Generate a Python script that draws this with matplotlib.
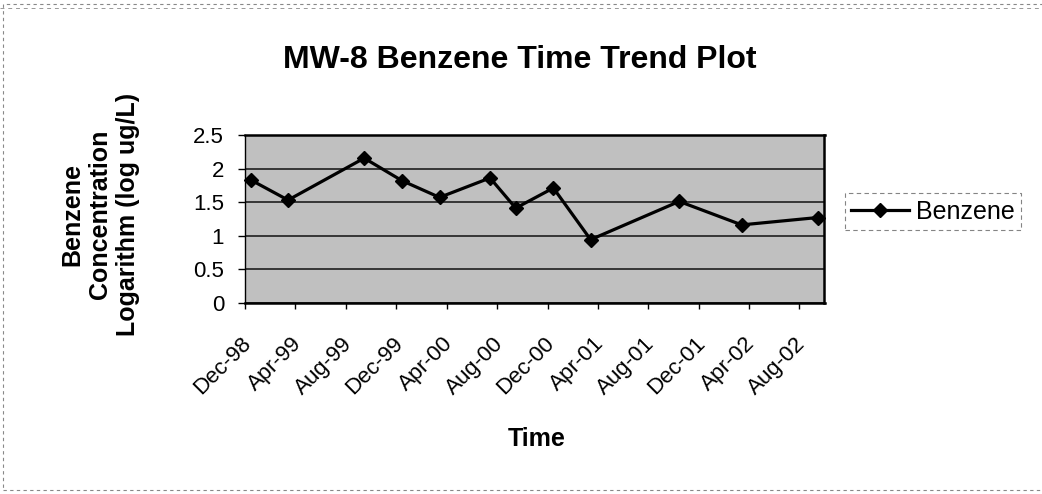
import matplotlib
matplotlib.use("Agg")
import matplotlib.pyplot as plt
import matplotlib.dates as mdates
import matplotlib.transforms as mtransforms
from matplotlib.patches import Rectangle
from matplotlib.lines import Line2D
import datetime as dt

# ---- data ----
title = "MW-8 Benzene Time Trend Plot"
series_name = "Benzene"
x_title = "Time"
y_title = "Benzene\nConcentration\nLogarithm (log ug/L)"
sample_dates = ["1998-12-15", "1999-03-15", "1999-09-15", "1999-12-15",
                "2000-03-15", "2000-07-15", "2000-09-15", "2000-12-15",
                "2001-03-15", "2001-10-15", "2002-03-15", "2002-09-15"]
benzene_log = [1.83, 1.53, 2.155, 1.82, 1.57, 1.86, 1.41, 1.71,
               0.94, 1.51, 1.16, 1.27]
x_tick_dates = ["1998-12-01", "1999-04-01", "1999-08-01", "1999-12-01",
                "2000-04-01", "2000-08-01", "2000-12-01", "2001-04-01",
                "2001-08-01", "2001-12-01", "2002-04-01", "2002-08-01"]
x_range = ["1998-12-01", "2002-10-01"]
y_ticks = [0, 0.5, 1, 1.5, 2, 2.5]
y_tick_labels = ["0", "0.5", "1", "1.5", "2", "2.5"]

def to_date(s):
    return dt.datetime.strptime(s, "%Y-%m-%d")

plt.rcParams['font.family'] = ['Liberation Sans', 'DejaVu Sans']

W, H = 1042, 494
fig = plt.figure(figsize=(W / 100, H / 100), dpi=100)
fig.patch.set_facecolor('white')

ax = fig.add_axes([245 / W, 1 - 302.7 / H, (824.5 - 245) / W, (302.7 - 135) / H])
ax.set_facecolor('#c0c0c0')

xd = [to_date(s) for s in sample_dates]
ax.plot(xd, benzene_log, color='black', lw=2.3, marker='D', ms=7.4,
        mfc='black', mec='black', label=series_name, zorder=3, clip_on=False)

ax.set_xlim(to_date(x_range[0]), to_date(x_range[1]))
ax.set_ylim(y_ticks[0], y_ticks[-1])
ax.set_xticks([to_date(s) for s in x_tick_dates])
ax.xaxis.set_major_formatter(mdates.DateFormatter('%b-%y'))
ax.set_yticks(y_ticks)
ax.set_yticklabels(y_tick_labels)

ax.yaxis.grid(True, color='#111111', lw=1.1)
ax.set_axisbelow(True)

for side in ['top', 'right']:
    ax.spines[side].set_linewidth(1.8)
ax.spines['bottom'].set_linewidth(1.8)
ax.spines['left'].set_linewidth(1.0)

ax.tick_params(axis='y', direction='out', length=5, width=1, pad=10, labelsize=16)
ax.tick_params(axis='x', direction='out', length=4, width=1, pad=18, labelsize=16)

offset = mtransforms.ScaledTranslation(-4 / 100, 0, fig.dpi_scale_trans)
for lab in ax.get_xticklabels():
    lab.set_rotation(45)
    lab.set_ha('right')
    lab.set_va('top')
    lab.set_rotation_mode('anchor')
    lab.set_transform(lab.get_transform() + offset)

fig.text(520 / W, 1 - 68 / H, title, ha='center', va='baseline',
         fontsize=23, fontweight='bold')
fig.text(537 / W, 1 - 446 / H, x_title, ha='center', va='baseline',
         fontsize=18, fontweight='bold')
fig.text(100 / W, 1 - 214 / H, y_title, ha='center', va='center',
         rotation=90, multialignment='center', fontsize=18,
         fontweight='bold', linespacing=1.2)

leg = fig.legend(loc='center left', bbox_to_anchor=(845 / W, 1 - 211.5 / H),
                 fontsize=18, frameon=True, fancybox=False, borderpad=0.25,
                 handlelength=2.3, handletextpad=0.3, borderaxespad=0)
fr = leg.get_frame()
fr.set_edgecolor('#666666')
fr.set_linestyle((0, (4, 3)))
fr.set_linewidth(0.8)

# chart-area border (dashed, as in the scanned original)
fig.patches.append(Rectangle((3 / W, 1 - 490 / H), (W + 5 - 3) / W, (490 - 4) / H,
                             transform=fig.transFigure, fill=False,
                             edgecolor='#888888', lw=0.8, ls=(0, (3, 3))))
fig.lines.append(Line2D([0, 1], [1 - 8.5 / H, 1 - 8.5 / H], transform=fig.transFigure,
                        color='#999999', lw=0.7, ls=(0, (4, 4))))

fig.savefig('out.png', dpi=100)
